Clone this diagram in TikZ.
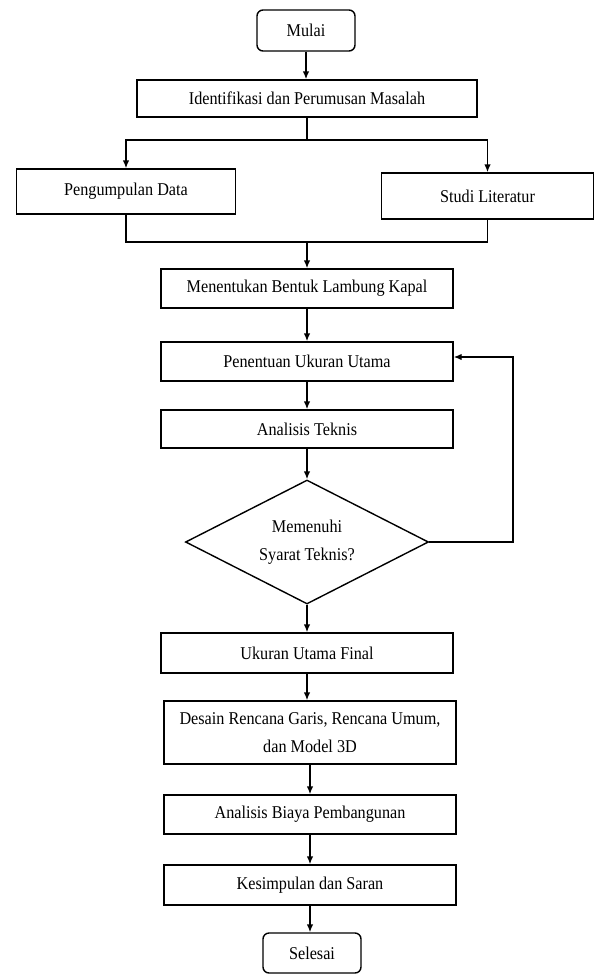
\documentclass[tikz,border=0pt]{standalone}
\usepackage{fontspec}
\setmainfont{Liberation Serif}[FakeStretch=0.9]
\usetikzlibrary{arrows.meta,shapes.geometric}

\tikzset{
  flow/.style={draw=black, line width=1.4pt, fill=white, align=center, inner sep=0pt,
               font=\fontsize{18}{27.5}\selectfont},
  proc/.style={flow, rectangle},
  term/.style={flow, rectangle, rounded corners=6pt},
  decide/.style={flow, diamond, aspect=2},
  link/.style={draw=black, line width=1.4pt},
  arr/.style={link, -{Latex[length=8pt,width=6.5pt]}}
}

\begin{document}
\begin{tikzpicture}[x=1pt,y=-1pt]
  % page frame
  \path[use as bounding box, fill=white] (0,0) rectangle (595,974);

  % process steps
  \node[term, minimum width=98pt, minimum height=41pt] (mulai) at (306,30.5) {Mulai};
  \node[proc, minimum width=340pt, minimum height=37pt] (ident) at (307,98.5) {Identifikasi dan Perumusan Masalah};
  \node[proc, minimum width=219pt, minimum height=45pt] (data) at (126,191.5) {Pengumpulan Data};
  \node[proc, minimum width=212pt, minimum height=46pt] (studi) at (487.5,196) {Studi Literatur};
  \node[proc, minimum width=292pt, minimum height=39pt] (bentuk) at (307,288.5) {Menentukan Bentuk Lambung Kapal};
  \node[proc, minimum width=292pt, minimum height=39pt] (ukuran) at (307,361.5) {Penentuan Ukuran Utama};
  \node[proc, minimum width=292pt, minimum height=38pt] (teknis) at (307,429) {Analisis Teknis};
  \node[decide, minimum width=243pt, minimum height=124pt] (syarat) at (307,542) {Memenuhi\\Syarat Teknis?};
  \node[proc, minimum width=292pt, minimum height=40pt] (final) at (307,653) {Ukuran Utama Final};
  \node[proc, minimum width=292pt, minimum height=63pt] (desain) at (310,732.5) {Desain Rencana Garis, Rencana Umum,\\dan Model 3D};
  \node[proc, minimum width=292pt, minimum height=39pt] (biaya) at (310,814.5) {Analisis Biaya Pembangunan};
  \node[proc, minimum width=292pt, minimum height=40pt] (simpul) at (310,885) {Kesimpulan dan Saran};
  \node[term, minimum width=98pt, minimum height=40pt] (selesai) at (312,953) {Selesai};

  % split and join points
  \coordinate (split) at (307,140);
  \coordinate (join) at (307,242);
  \coordinate (loop) at (513,542);

  % connectors
  \draw[arr] (mulai.south) -- (mulai.south |- ident.north);
  \draw[link] (ident.south) -- (split);
  \draw[arr] (split) -| (data.north);
  \draw[arr] (split) -| (studi.north);
  \draw[link] (data.south) |- (join) -| (studi.south);
  \draw[arr] (join) -- (bentuk.north);
  \draw[arr] (bentuk.south) -- (ukuran.north);
  \draw[arr] (ukuran.south) -- (teknis.north);
  \draw[arr] (teknis.south) -- (syarat.north);
  \draw[arr] (syarat.south) -- (final.north);
  \draw[arr] (final.south) -- (final.south |- desain.north);
  \draw[arr] (desain.south) -- (biaya.north);
  \draw[arr] (biaya.south) -- (simpul.north);
  \draw[arr] (simpul.south) -- (simpul.south |- selesai.north);
  \draw[arr] (syarat.east) -- (loop) |- ([yshift=4.5pt]ukuran.east);
\end{tikzpicture}
\end{document}
